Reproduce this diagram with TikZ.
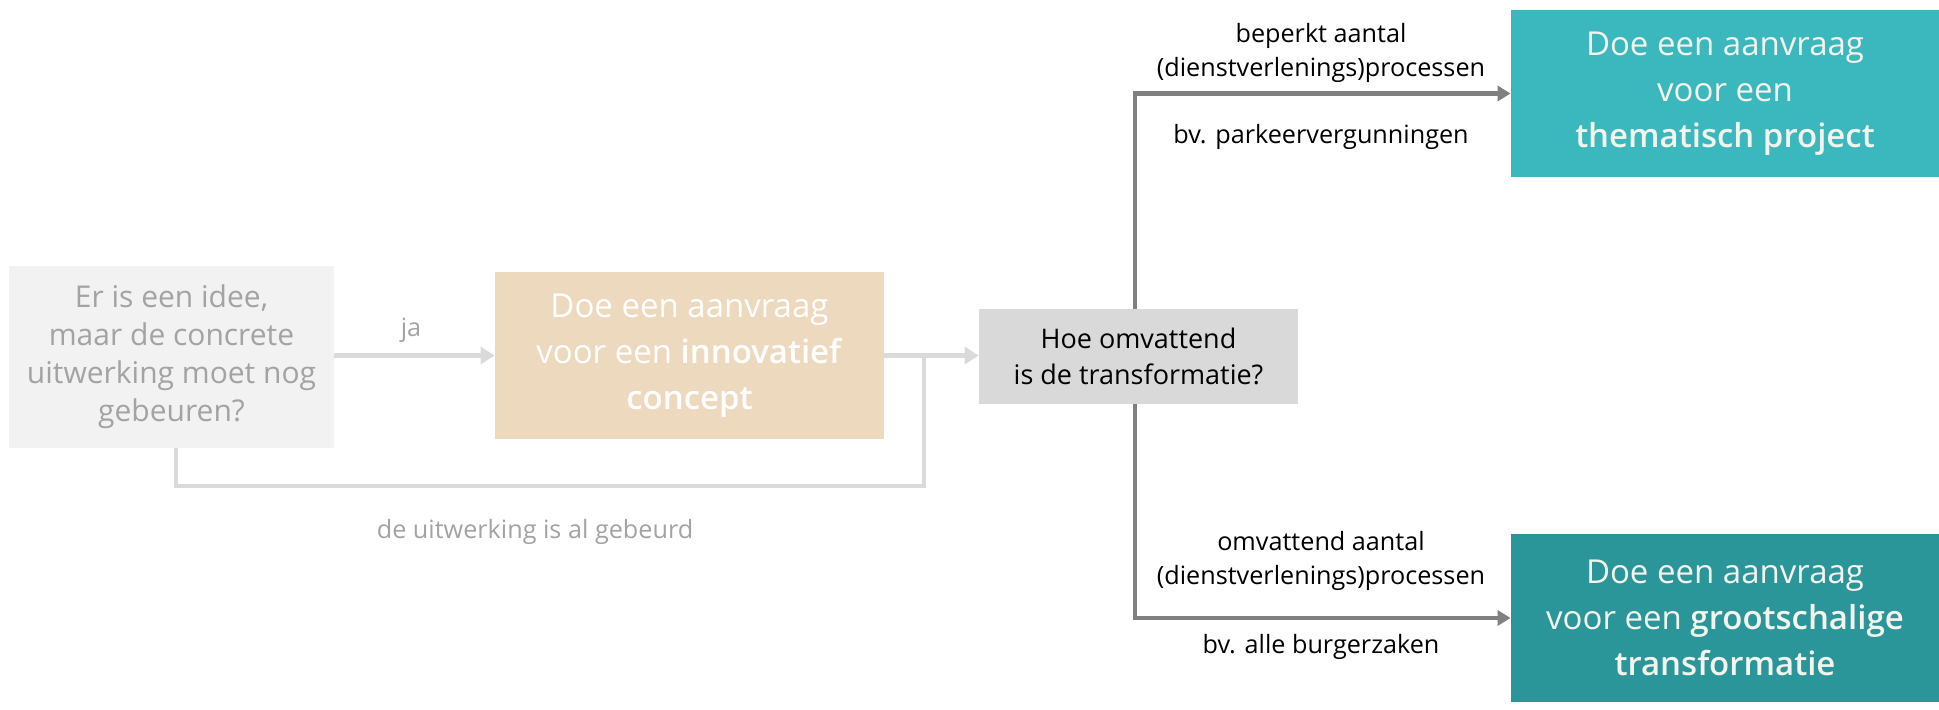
\documentclass[tikz,border=0pt]{standalone}
\usepackage{fontspec}
\setmainfont{Open Sans}[BoldFont={Open Sans Semibold}]
\usetikzlibrary{arrows.meta}
\definecolor{boxgray}{HTML}{F2F2F2}
\definecolor{txtgray}{HTML}{A3A3A3}
\definecolor{tan}{HTML}{EDD9BE}
\definecolor{qgray}{HTML}{D9D9D9}
\definecolor{tealA}{HTML}{3BB8BD}
\definecolor{tealB}{HTML}{2B9699}
\definecolor{lightline}{HTML}{DADADA}
\definecolor{darkline}{HTML}{808080}
\definecolor{cream}{HTML}{F4F4EC}
\tikzset{
  box/.style={rectangle, inner sep=0pt, align=center},
  bigtxt/.style={font=\fontsize{16.5}{23}\selectfont},
  lbl/.style={inner sep=0pt, align=center, font=\fontsize{12.6}{17}\selectfont},
  larr/.style={draw=lightline, line width=2.4pt, -{Triangle[length=7pt,width=8.5pt]}},
  lline/.style={draw=lightline, line width=2.4pt},
  darr/.style={draw=darkline, line width=2.2pt, -{Triangle[length=6.5pt,width=7.5pt]}},
}
\begin{document}
\begin{tikzpicture}[x=0.5pt,y=-0.5pt]
\useasboundingbox (0,0) rectangle (1939,709);
% boxes
\node[box, fill=boxgray, text=txtgray, minimum width=162.5pt, minimum height=91pt,
      font=\fontsize{15}{19}\selectfont] (b1) at (171.5,357)
  {Er is een idee,\\maar de concrete\\uitwerking moet nog\\gebeuren?};
\node[box, bigtxt, fill=tan, text=white, minimum width=194.5pt, minimum height=83.5pt] (b2) at (689.5,355.5)
  {Doe een aanvraag\\voor een \textbf{innovatief}\\\textbf{concept}};
\node[box, bigtxt, fill=tealA, text=cream, minimum width=214pt, minimum height=83.5pt] (b4) at (1725,93.5)
  {Doe een aanvraag\\voor een\\\textbf{thematisch project}};
\node[box, bigtxt, fill=tealB, text=cream, minimum width=214pt, minimum height=84pt] (b5) at (1725,618)
  {Doe een aanvraag\\voor een \textbf{grootschalige}\\\textbf{transformatie}};
% connectors behind b3
\draw[darr] (1135,356.5) |- (b4.west);
\draw[darr] (1135,356.5) |- (b5.west);
\node[box, fill=qgray, text=black, minimum width=159.5pt, minimum height=47.5pt,
      font=\fontsize{13.5}{18}\selectfont] (b3) at (1138.5,356.5)
  {Hoe omvattend\\is de transformatie?};
% light connectors
\coordinate (j) at (924,355.5);
\coordinate (jb) at (924,486);
\draw[larr] (b1.east |- b2.west) -- (b2.west);
\draw[larr] (b2.east) -- (b3.west |- b2.east);
\draw[lline] (b1.south -| 176,0) |- (jb) -- (j);
% labels
\node[lbl, text=txtgray] (lja) at (411,330) {ja};
\node[lbl, text=txtgray] (lalready) at (535,532) {de uitwerking is al gebeurd};
\node[lbl] (ltop) at (1321,53) {beperkt aantal\\(dienstverlenings)processen};
\node[lbl] (ltopb) at (1321,137) {bv. parkeervergunningen};
\node[lbl] (lbot) at (1321,560.5) {omvattend aantal\\(dienstverlenings)processen};
\node[lbl] (lbotb) at (1321,647) {bv. alle burgerzaken};
\end{tikzpicture}
\end{document}
